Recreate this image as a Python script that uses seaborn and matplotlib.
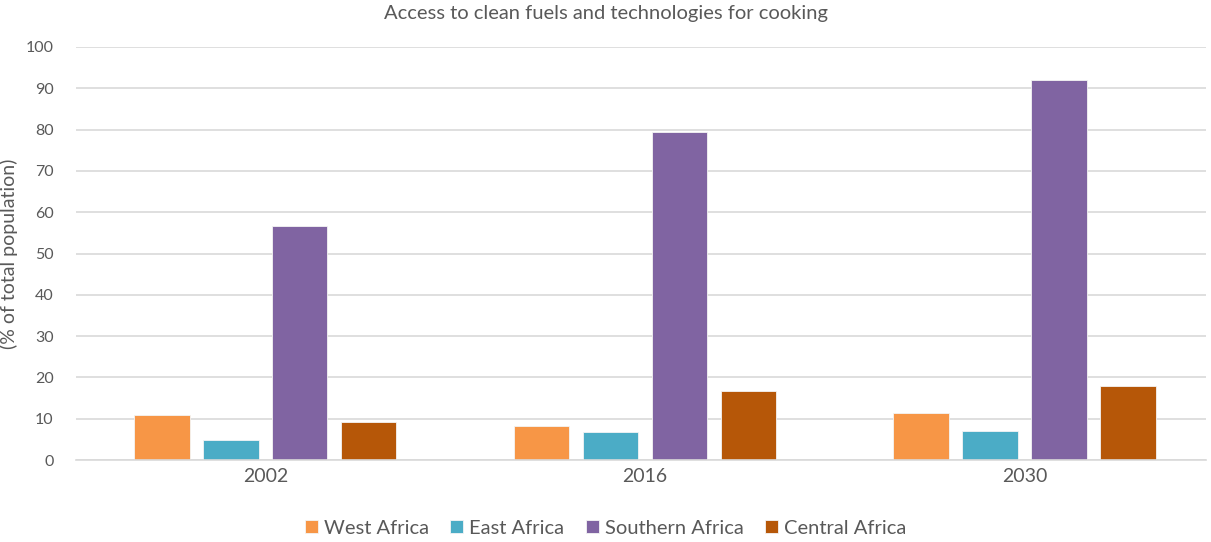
import pandas as pd
import seaborn as sns
import matplotlib.pyplot as plt

years = ['2002', '2016', '2030']
regions = ['West Africa', 'East Africa', 'Southern Africa', 'Central Africa']
west = [11.0, 8.2, 11.5]
east = [4.8, 6.9, 7.1]
southern = [56.7, 79.4, 92.0]
central = [9.1, 16.8, 17.8]
colors = ['#F79646', '#4BACC6', '#8064A2', '#B65708']

df = pd.DataFrame({
    'year': years * 4,
    'region': [r for r in regions for _ in years],
    'value': west + east + southern + central,
})

sns.set_style('white')
plt.rcParams['font.family'] = ['Lato', 'DejaVu Sans']
grey = '#595959'

fig = plt.figure(figsize=(12.11, 5.42), dpi=100)
ax = fig.add_axes([76 / 1211, 1 - 460 / 542, 1130 / 1211, 413 / 542])

sns.barplot(data=df, x='year', y='value', hue='region', hue_order=regions,
            palette=colors, saturation=1, width=0.727, gap=0.2, ax=ax,
            edgecolor='#f4f4f4', linewidth=0.6, legend=True)

ax.set_ylim(0, 100)
ax.set_xlim(-0.499, 2.478)
ax.set_yticks(range(0, 101, 10))
ax.yaxis.grid(True, color='#d9d9d9', linewidth=1.2)
ax.set_axisbelow(True)
for s in ['top', 'right', 'left']:
    ax.spines[s].set_visible(False)
ax.spines['bottom'].set_color('#d9d9d9')
ax.spines['bottom'].set_linewidth(1.2)
ax.tick_params(axis='y', length=0, labelsize=11.5, labelcolor=grey, pad=16)
ax.tick_params(axis='x', length=0, labelsize=14, labelcolor=grey, pad=6)
ax.set_xlabel('')
ax.set_ylabel('(% of total population)', fontsize=14, color=grey)
ax.yaxis.set_label_coords(-58 / 1130, 0.5)

fig.text(0.5, 1 - 14 / 542, 'Access to clean fuels and technologies for cooking',
         ha='center', va='center', fontsize=14.5, color=grey)

handles, labels = ax.get_legend_handles_labels()
ax.legend(handles, labels, loc='center', bbox_to_anchor=(0.5, 1 - 528 / 542),
          bbox_transform=fig.transFigure,
          ncol=4, frameon=False, fontsize=14.5, labelcolor=grey,
          handlelength=0.65, handleheight=0.65, handletextpad=0.3,
          columnspacing=1.05)

fig.savefig('out.png', dpi=100)
